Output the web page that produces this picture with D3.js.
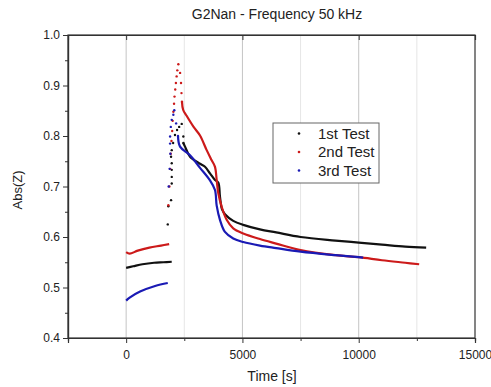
<!DOCTYPE html>
<html>
<head>
<meta charset="utf-8">
<script src="https://cdn.jsdelivr.net/npm/d3@7"></script>
<style>
  body { margin: 0; background: #fff; }
  text { font-family: "Liberation Sans", Arial, sans-serif; fill: #222; }
</style>
</head>
<body>
<div id="chart"></div>
<script>
// Series: [time (s), Abs(Z)]
// each test = start segment (line), rising scatter (dots), decay segment (line)
const test1Start = [[0, 0.539], [300, 0.542], [700, 0.546], [1200, 0.549], [1600, 0.550], [1960, 0.551]];
const test1Rise = [[1790, 0.625], [1815, 0.661], [1931, 0.673], [1961, 0.706], [1961, 0.719], [1961, 0.733],
                   [1961, 0.746], [1931, 0.759], [1961, 0.772], [2020, 0.786], [2100, 0.802], [2190, 0.812],
                   [2280, 0.818], [2390, 0.824], [2460, 0.799], [2460, 0.786]];
const test1Decay = [[2460, 0.786], [2532, 0.779], [2747, 0.759], [3176, 0.745], [3391, 0.739], [3605, 0.726],
                    [3820, 0.713], [3961, 0.708], [4034, 0.680], [4120, 0.655], [4249, 0.645], [4605, 0.632],
                    [5035, 0.624], [5751, 0.615], [6450, 0.609], [7500, 0.600], [9000, 0.593], [10000, 0.589],
                    [11000, 0.585], [12000, 0.581], [12900, 0.579]];

const test2Start = [[0, 0.570], [150, 0.567], [500, 0.573], [1000, 0.579], [1500, 0.583], [1850, 0.586]];
const test2Rise = [[1815, 0.663], [1860, 0.700], [1890, 0.735], [1920, 0.765], [1950, 0.790], [1980, 0.810],
                   [2000, 0.830], [2030, 0.848], [2060, 0.864], [2080, 0.878], [2110, 0.892], [2140, 0.905],
                   [2170, 0.918], [2200, 0.930], [2245, 0.942], [2320, 0.925], [2360, 0.905], [2380, 0.885],
                   [2400, 0.868]];
const test2Decay = [[2400, 0.868], [2450, 0.852], [2600, 0.840], [2900, 0.818], [3176, 0.801], [3463, 0.772],
                    [3678, 0.752], [3820, 0.739], [3893, 0.713], [3961, 0.687], [4107, 0.660], [4322, 0.634],
                    [4605, 0.617], [5035, 0.607], [5751, 0.596], [6450, 0.587], [7500, 0.574], [9000, 0.564],
                    [10000, 0.560], [11000, 0.554], [12000, 0.549], [12600, 0.546]];

const test3Start = [[0, 0.474], [150, 0.480], [600, 0.492], [1245, 0.503], [1790, 0.509]];
const test3Rise = [[1830, 0.700], [1870, 0.735], [1900, 0.765], [1890, 0.785], [1890, 0.799], [1920, 0.818],
                   [1960, 0.832], [2030, 0.842], [2070, 0.851], [2150, 0.825], [2230, 0.800]];
const test3Decay = [[2230, 0.800], [2318, 0.779], [2747, 0.762], [3176, 0.737], [3605, 0.712], [3820, 0.693],
                    [3893, 0.662], [4034, 0.634], [4249, 0.610], [4605, 0.597], [5035, 0.590], [5751, 0.583],
                    [6450, 0.578], [7500, 0.571], [9000, 0.564], [10000, 0.560], [10190, 0.559]];

const seriesNames = ["1st Test", "2nd Test", "3rd Test"];
const seriesColors = ["#111111", "#cc1a1a", "#1a1ab4"];
const xTicks = [0, 5000, 10000, 15000];
const yTicks = [0.4, 0.5, 0.6, 0.7, 0.8, 0.9, 1.0];

const tests = [
    { start: test1Start, rise: test1Rise, decay: test1Decay },
    { start: test2Start, rise: test2Rise, decay: test2Decay },
    { start: test3Start, rise: test3Rise, decay: test3Decay }
];

const W = 491, H = 387;
const margin = { top: 35, right: 16, bottom: 49, left: 68 },
      width = W - margin.left - margin.right,
      height = H - margin.top - margin.bottom;

const svg = d3.select("#chart").append("svg")
    .attr("width", W).attr("height", H);

const g = svg.append("g").attr("transform", `translate(${margin.left},${margin.top})`);

const x = d3.scaleLinear().domain([-2500, 15000]).range([0, width]);
const y = d3.scaleLinear().domain([0.4, 1.0]).range([height, 0]);

// grid lines
const minorX = [2500, 7500, 12500];
g.selectAll(".gmaj").data([0, 5000, 10000]).enter().append("line")
    .attr("x1", d => x(d)).attr("x2", d => x(d)).attr("y1", 0).attr("y2", height)
    .attr("stroke", "#c4c4c4").attr("stroke-width", 1);
g.selectAll(".gmin").data(minorX).enter().append("line")
    .attr("x1", d => x(d)).attr("x2", d => x(d)).attr("y1", 0).attr("y2", height)
    .attr("stroke", "#e6e6e6").attr("stroke-width", 1);

// axes
const xAxis = g.append("g").attr("transform", `translate(0,${height})`)
    .call(d3.axisBottom(x).tickValues(xTicks).tickSize(5).tickFormat(d3.format("d")));
xAxis.selectAll(".tick line").filter(d => d === 15000).remove();
g.append("g").attr("transform", `translate(0,${height})`)
    .call(d3.axisBottom(x).tickValues(minorX).tickSize(3).tickFormat(""));

g.append("g")
    .call(d3.axisLeft(y).tickValues(yTicks).tickSize(5).tickFormat(d3.format(".1f")));
g.append("g")
    .call(d3.axisLeft(y).tickValues([0.45, 0.55, 0.65, 0.75, 0.85, 0.95]).tickSize(3).tickFormat(""));

// top ticks
g.append("g")
    .call(d3.axisTop(x).tickValues([0, 5000, 10000]).tickSize(-5).tickFormat(""));

g.selectAll(".domain").attr("stroke", "#333").attr("stroke-width", 1.2);
g.selectAll(".tick line").attr("stroke", "#333");
g.selectAll(".tick text").attr("font-size", 12).style("fill", "#222")
    .style("font-family", "'Liberation Sans', Arial, sans-serif");
xAxis.selectAll(".tick text").attr("dy", "1.1em");

// frame
g.append("rect").attr("width", width).attr("height", height)
    .attr("fill", "none").attr("stroke", "#333").attr("stroke-width", 1.2);

// series
const line = d3.line().x(d => x(d[0])).y(d => y(d[1])).curve(d3.curveCatmullRom);

tests.forEach((t, i) => {
    [t.start, t.decay].forEach(seg => {
        g.append("path").datum(seg)
            .attr("d", line)
            .attr("fill", "none")
            .attr("stroke", seriesColors[i])
            .attr("stroke-width", 2.2);
    });
    g.selectAll(".dot" + i).data(t.rise).enter().append("circle")
        .attr("cx", d => x(d[0])).attr("cy", d => y(d[1]))
        .attr("r", 1.2).attr("fill", seriesColors[i]);
});

// legend
const legend = svg.append("g").attr("transform", "translate(273,123)");
legend.append("rect").attr("width", 106).attr("height", 60)
    .attr("fill", "#fff").attr("stroke", "#666").attr("stroke-width", 1);
seriesNames.forEach((name, i) => {
    legend.append("circle").attr("cx", 26).attr("cy", 10.5 + i * 18.5)
        .attr("r", 1.3).attr("fill", seriesColors[i]);
    legend.append("text").attr("x", 45).attr("y", 15.5 + i * 18.5)
        .attr("font-size", 15).text(name);
});

// title and axis labels
svg.append("text").attr("x", 277).attr("y", 19).attr("text-anchor", "middle")
    .attr("font-size", 14).text("G2Nan - Frequency 50 kHz");
svg.append("text").attr("x", 272).attr("y", 381).attr("text-anchor", "middle")
    .attr("font-size", 14).text("Time [s]");
svg.append("text").attr("transform", "translate(22,190) rotate(-90)")
    .attr("text-anchor", "middle").attr("font-size", 13).text("Abs(Z)");
</script>
</body>
</html>
